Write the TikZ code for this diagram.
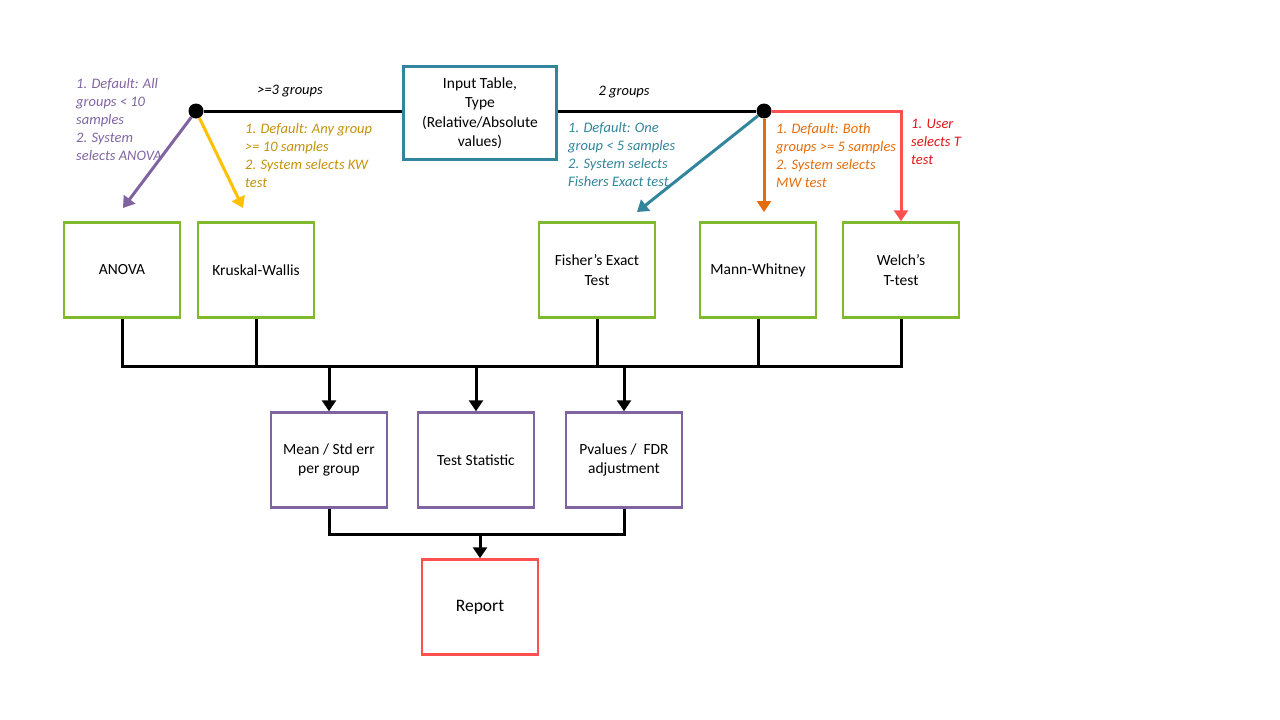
\documentclass[tikz,border=0pt]{standalone}
\usepackage{fontspec}
\setmainfont{Carlito}
\usetikzlibrary{arrows.meta}

\definecolor{box_green}{RGB}{128,186,44}
\definecolor{box_purple}{RGB}{128,100,162}
\definecolor{box_teal}{RGB}{49,133,156}
\definecolor{arrow_yellow}{RGB}{255,192,0}
\definecolor{text_yellow}{RGB}{196,146,10}
\definecolor{arrow_orange}{RGB}{228,108,10}
\definecolor{arrow_red}{RGB}{255,80,80}
\definecolor{text_red}{RGB}{225,20,20}

\tikzset{test_box/.style={draw=box_green, line width=2.5pt, minimum width=116pt, minimum height=95pt, align=center, font=\fontsize{15.5}{19.5}\selectfont}}
\tikzset{result_box/.style={test_box, draw=box_purple}}
\tikzset{input_box/.style={test_box, draw=box_teal, minimum width=153pt, minimum height=93pt}}
\tikzset{report_box/.style={test_box, draw=arrow_red, font=\fontsize{17.5}{20}\selectfont}}
\tikzset{split_dot/.style={circle, fill=black, inner sep=0pt, minimum size=15pt}}
\tikzset{rule_text/.style={anchor=north west, inner sep=0pt, align=left, font=\fontsize{14.5}{18}\selectfont\itshape}}
\tikzset{branch_text/.style={inner sep=0pt, font=\fontsize{14.5}{18}\selectfont\itshape}}
\tikzset{flow/.style={line width=3pt, -{Triangle[width=14pt,length=11pt]}}}
\tikzset{bus_line/.style={line width=3pt}}

\begin{document}
\begin{tikzpicture}[x=1pt, y=-1pt]
    \useasboundingbox (0,0) rectangle (1280,720);

    % input and the two split points
    \node[input_box] (input) at (480,113) {Input Table,\\Type\\(Relative/Absolute\\values)};
    \node[split_dot] (many) at (196,111) {};
    \node[split_dot] (two) at (764,111) {};
    \draw[bus_line] (many) -- (input.west |- many);
    \draw[bus_line] (input.east |- two) -- (two);
    \node[branch_text] (many_lbl) at (290,91) {>=3 groups};
    \node[branch_text] (two_lbl) at (624,92) {2 groups};

    % tests
    \node[test_box] (anova) at (122,270) {ANOVA};
    \node[test_box] (kw) at (256,270) {Kruskal-Wallis};
    \node[test_box] (fisher) at (597,270) {Fisher’s Exact\\Test};
    \node[test_box] (mw) at (758,270) {Mann-Whitney};
    \node[test_box] (welch) at (901,270) {Welch’s\\T-test};

    % branches
    \coordinate (anova_tip) at (123,208);
    \coordinate (kw_tip) at (243,208);
    \coordinate (fisher_tip) at (637,212);
    \coordinate (mw_tip) at (764,212);
    \coordinate (welch_turn) at (901,111);
    \draw[flow, draw=box_purple] (many) -- (anova_tip);
    \draw[flow, draw=arrow_yellow] (many) -- (kw_tip);
    \draw[flow, draw=box_teal] (two) -- (fisher_tip);
    \draw[flow, draw=arrow_orange] (two) -- (mw_tip);
    \draw[flow, draw=arrow_red] (two) -- (welch_turn) -- (welch.north);

    \node[rule_text, text=box_purple] (anova_rule) at (76,78) {1. Default: All\\groups < 10\\samples\\2. System\\selects ANOVA};
    \node[rule_text, text=text_yellow] (kw_rule) at (245,123) {1. Default: Any group\\>= 10 samples\\2. System selects KW\\test};
    \node[rule_text, text=box_teal] (fisher_rule) at (568,122) {1. Default: One\\group < 5 samples\\2. System selects\\Fishers Exact test};
    \node[rule_text, text=arrow_orange] (mw_rule) at (776,123) {1. Default: Both\\groups >= 5 samples\\2. System selects\\MW test};
    \node[rule_text, text=text_red] (welch_rule) at (911,119) {1. User\\selects T\\test};

    % outputs
    \node[result_box] (mean) at (329,460) {Mean / Std err\\per group};
    \node[result_box] (stat) at (476,460) {Test Statistic};
    \node[result_box] (pval) at (624,460) {Pvalues /\ \ FDR\\adjustment};
    \node[report_box] (report) at (480,607) {Report};

    \coordinate (bus) at (0,366);
    \coordinate (join) at (480,534);
    \draw[bus_line] (anova.south) |- (bus -| welch.south) -- (welch.south);
    \foreach \t in {kw,fisher,mw}{\draw[bus_line] (\t.south) -- (\t.south |- bus);}
    \foreach \r in {mean,stat,pval}{\draw[flow] (\r.north |- bus) -- (\r.north);}
    \draw[bus_line] (mean.south) |- (join) -| (pval.south);
    \draw[flow] (join) -- (report.north);
\end{tikzpicture}
\end{document}
